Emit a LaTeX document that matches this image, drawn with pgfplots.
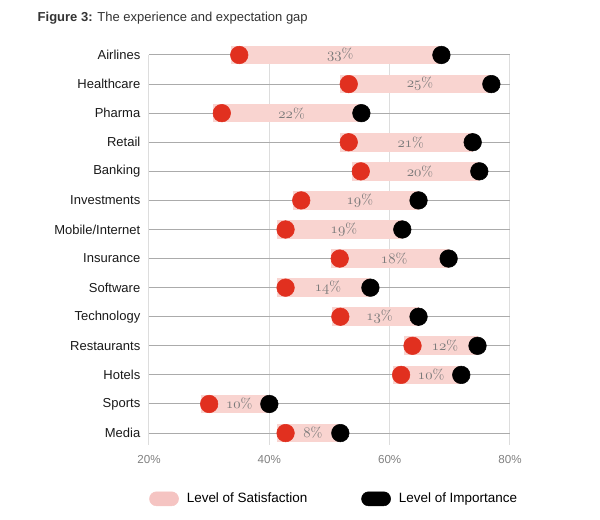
\documentclass[border=0pt]{standalone}
\usepackage{pgfplots}
\pgfplotsset{compat=1.18}
\usepackage{pgfplotstable}
\usepackage{fontspec}
\setmainfont{Liberation Sans}
\newfontfamily\lmr{Latin Modern Roman}
\definecolor{barpink}{HTML}{F9D4D0}
\definecolor{legpink}{HTML}{F5C4C2}
\definecolor{dotred}{HTML}{E1301F}
\definecolor{gridh}{HTML}{ABABAB}
\definecolor{gridv}{HTML}{DDDDDD}
\definecolor{tickgray}{HTML}{808080}
\definecolor{gapgray}{HTML}{7A7A7A}
\definecolor{titlegray}{HTML}{333333}

\pgfplotstableread{
y  name           s     i     gap
13 Airlines       35.0  68.6  33
12 Healthcare     53.2  76.9  25
11 Pharma         32.1  55.3  22
10 Retail         53.2  73.8  21
9  Banking        55.2  74.9  20
8  Investments    45.3  64.8  19
7  Mobile/Internet 42.7 62.1  19
6  Insurance      51.7  69.8  18
5  Software       42.7  56.8  14
4  Technology     51.8  64.8  13
3  Restaurants    63.8  74.6  12
2  Hotels         61.9  71.9  10
1  Sports         30.0  40.0  10
0  Media          42.7  51.8  8
}\gapdata

\begin{document}
\begin{tikzpicture}
\useasboundingbox (-111.75pt,-56.25pt) rectangle (338.25pt,333.75pt);
\begin{axis}[
  at={(0,0)}, anchor=south west,
  scale only axis,
  width=270.75pt, height=292.5pt,
  xmin=20, xmax=80,
  ymin=-0.41, ymax=13,
  xtick={20,40,60,80},
  xticklabels={20\%,40\%,60\%,80\%},
  ytick={0,...,13},
  yticklabels={Media,Sports,Hotels,Restaurants,Technology,Software,Insurance,Mobile/Internet,Investments,Banking,Retail,Pharma,Healthcare,Airlines},
  axis line style={draw=none},
  major tick length=0pt,
  xmajorgrids, ymajorgrids,
  x grid style={color=gridv, line width=0.75pt},
  y grid style={color=gridh, line width=0.75pt},
  xticklabel style={font=\fontsize{8.7}{10}\selectfont, text=tickgray, yshift=-4pt},
  yticklabel style={font=\fontsize{9.75}{11}\selectfont, text=black!90, xshift=-3pt},
  clip=false,
  legend columns=2,
  legend style={draw=none, fill=none, at={(0,-0.138)}, anchor=west, inner sep=0pt,
    font=\fontsize{10.1}{11}\selectfont,
    /tikz/every odd column/.append style={column sep=4pt},
    /tikz/every even column/.append style={column sep=38.5pt}},
  legend cell align=left,
]
% pink gap bars
\addplot[draw=none, mark=none, forget plot,
  error bars/.cd, x dir=plus, x explicit,
  error bar style={line width=14pt, color=barpink}, error mark=none]
  table[x expr=\thisrow{s}-1.4, y=y, x error expr=\thisrow{i}-\thisrow{s}+1.4] {\gapdata};
% gap labels
\addplot[draw=none, mark=none, forget plot,
  nodes near coords={$\mathnormal{\pgfplotspointmeta}$\%},
  point meta=explicit symbolic,
  every node near coord/.append style={anchor=center, text=gapgray, font=\lmr\fontsize{10.6}{11}\selectfont}]
  table[x expr=(\thisrow{s}+\thisrow{i})/2, y=y, meta=gap] {\gapdata};
% satisfaction dots
\addplot[only marks, mark=*, mark size=6.6pt, color=dotred, forget plot]
  table[x=s, y=y] {\gapdata};
% importance dots
\addplot[only marks, mark=*, mark size=6.6pt, color=black, forget plot]
  table[x=i, y=y] {\gapdata};
\addlegendimage{legend image code/.code={\fill[legpink, rounded corners=5.2pt] (0pt,-5.25pt) rectangle (21.75pt,5.25pt);}}
\addlegendentry{Level of Satisfaction}
\addlegendimage{legend image code/.code={\fill[black, rounded corners=5.2pt] (0pt,-5.25pt) rectangle (21.75pt,5.25pt);}}
\addlegendentry{Level of Importance}
\end{axis}
\node[anchor=base west, text=titlegray, font=\fontsize{9.75}{11}\selectfont] at (-87pt,317.6pt) {\textbf{Figure 3:} The experience and expectation gap};
\end{tikzpicture}
\end{document}
